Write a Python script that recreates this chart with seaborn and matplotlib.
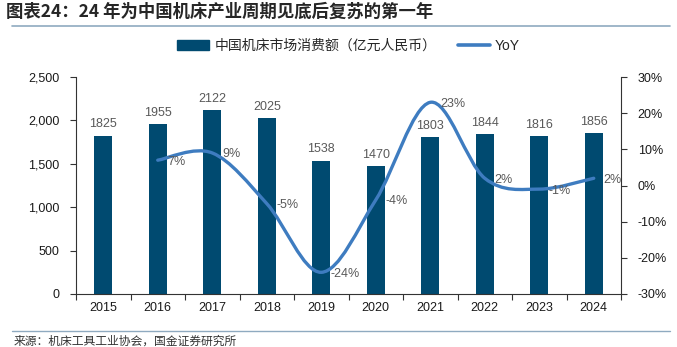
import numpy as np
import pandas as pd
import matplotlib
matplotlib.use("Agg")
import matplotlib.pyplot as plt
from matplotlib.path import Path
from matplotlib.patches import PathPatch
from matplotlib.lines import Line2D
from matplotlib.patches import Patch
import seaborn as sns

years = ["2015", "2016", "2017", "2018", "2019", "2020", "2021", "2022", "2023", "2024"]
consumption = [1825, 1955, 2122, 2025, 1538, 1470, 1803, 1844, 1816, 1856]
yoy_years = ["2016", "2017", "2018", "2019", "2020", "2021", "2022", "2023", "2024"]
yoy = [7, 9, -5, -24, -4, 23, 2, -1, 2]
yoy_labels = ["7%", "9%", "-5%", "-24%", "-4%", "23%", "2%", "-1%", "2%"]

title = "图表24：24 年为中国机床产业周期见底后复苏的第一年"
source = "来源：机床工具工业协会，国金证券研究所"
bar_name = "中国机床市场消费额（亿元人民币）"
line_name = "YoY"

sns.set_theme(style="white")
plt.rcParams["font.family"] = ["Liberation Sans", "Noto Sans CJK SC", "DejaVu Sans"]

BAR = "#004A70"
LINE = "#3E7CC0"
LBL = "#595959"
FS = 9

fig = plt.figure(figsize=(6.77, 3.47), dpi=100)
ax = fig.add_axes([76/677, 1-294/347, (621-76)/677, (294-77)/347])

df = pd.DataFrame({"year": years, "value": consumption})
sns.barplot(data=df, x="year", y="value", ax=ax, color=BAR, width=0.33,
            saturation=1, edgecolor=BAR, linewidth=0)
ax.set_xlim(-0.5, len(years) - 0.5)
ax.set_ylim(0, 2500)
ax.set_yticks(np.arange(0, 2501, 500))
ax.set_yticklabels([f"{v:,}" for v in range(0, 2501, 500)], fontsize=FS, color="#1a1a1a")
ax.set_xlabel("")
ax.set_ylabel("")
ax.tick_params(axis="x", length=0, labelsize=FS, labelcolor="#1a1a1a", pad=6)
ax.set_xticks(np.arange(-0.5, len(years), 1.0), minor=True)
ax.tick_params(axis="x", which="minor", length=4, width=0.8, color="#333333", direction="out", bottom=True)
ax.tick_params(axis="y", length=4, width=0.8, color="#333333", direction="out", left=True, pad=8)
for s in ["top", "right"]:
    ax.spines[s].set_visible(False)
for s in ["left", "bottom"]:
    ax.spines[s].set_color("#333333")
    ax.spines[s].set_linewidth(0.8)

for i, v in enumerate(consumption):
    ax.text(i, v + 60, str(v), ha="center", va="bottom", fontsize=FS, color=LBL)

ax2 = ax.twinx()
ax2.set_ylim(-30, 30)
ax2.set_yticks(np.arange(-30, 31, 10))
ax2.set_yticklabels([f"{v}%" for v in range(-30, 31, 10)], fontsize=FS, color="#1a1a1a")
ax2.tick_params(axis="y", length=4, width=0.8, color="#333333", direction="out", right=True, pad=8)
for s in ["top", "left", "bottom"]:
    ax2.spines[s].set_visible(False)
ax2.spines["right"].set_color("#333333")
ax2.spines["right"].set_linewidth(0.8)
ax2.grid(False)
ax.grid(False)

# smooth (Catmull-Rom style Bezier) line through YoY points
xs = [years.index(y) for y in yoy_years]
pts = np.column_stack([xs, yoy]).astype(float)
n = len(pts)
verts = [tuple(pts[0])]
codes = [Path.MOVETO]
for i in range(n - 1):
    p0 = pts[i - 1] if i > 0 else pts[i]
    p1 = pts[i]
    p2 = pts[i + 1]
    p3 = pts[i + 2] if i + 2 < n else pts[i + 1]
    c1 = p1 + (p2 - p0) / 6.0
    c2 = p2 - (p3 - p1) / 6.0
    verts += [tuple(c1), tuple(c2), tuple(p2)]
    codes += [Path.CURVE4] * 3
patch = PathPatch(Path(verts, codes), facecolor="none", edgecolor=LINE, lw=2.4,
                  capstyle="round", joinstyle="round", transform=ax2.transData)
ax2.add_patch(patch)

for x, v, t in zip(xs, yoy, yoy_labels):
    ax2.annotate(t, (x, v), xytext=(7, -1), textcoords="offset points",
                 ha="left", va="center", fontsize=FS, color=LBL)

handles = [Patch(facecolor=BAR, edgecolor=BAR),
           Line2D([0], [0], color=LINE, lw=2.6)]
fig.legend(handles, [bar_name, line_name], loc="center", bbox_to_anchor=(0.515, 1-46/347),
           ncol=2, frameon=False, fontsize=10, columnspacing=1.5, handlelength=2.3,
           handleheight=0.8, handletextpad=0.4)

fig.text(6/677, 1-12/347, title, fontsize=12.5, fontweight="bold", fontstyle="italic",
         ha="left", va="center", family=["Noto Sans CJK SC", "DejaVu Sans"])
fig.add_artist(Line2D([12/677, 670/677], [1-26/347, 1-26/347], color="#8FAAC0", lw=1.2))
fig.add_artist(Line2D([12/677, 670/677], [1-331/347, 1-331/347], color="#8FAAC0", lw=1.0))
fig.text(14/677, 1-341/347, source, fontsize=8.5, color="#333333",
         ha="left", va="center", family=["Noto Sans CJK SC", "DejaVu Sans"])

fig.savefig("out.png", dpi=100)
